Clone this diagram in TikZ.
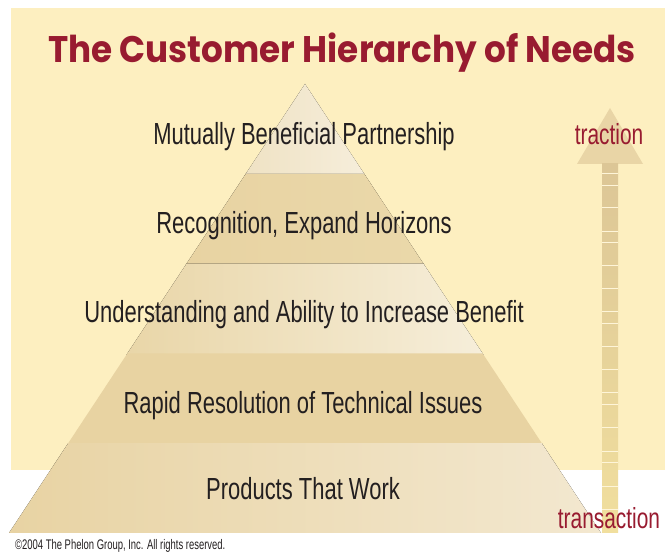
\documentclass[tikz,border=0pt]{standalone}
\usepackage{fontspec}
\usetikzlibrary{calc}
\newfontfamily\levelfont[FakeStretch=0.72]{Liberation Sans}
\newfontfamily\smallfont[FakeStretch=0.68]{Liberation Sans}
\newfontfamily\titlefont[FakeStretch=0.925]{Poppins}
\definecolor{cream}{HTML}{FDEFC0}
\definecolor{tanD}{HTML}{E8D3A2}
\definecolor{titlered}{HTML}{981B30}
\definecolor{ink}{HTML}{231F20}
\definecolor{c1L}{HTML}{EFE2C4}
\definecolor{c1R}{HTML}{F6EEDB}
\definecolor{c2R}{HTML}{EAD8AA}
\definecolor{c3L}{HTML}{E9D6A8}
\definecolor{c3R}{HTML}{F6EEDA}
\definecolor{c5L}{HTML}{E8D3A3}
\definecolor{c5R}{HTML}{F3E8D0}
\definecolor{arrowhead}{HTML}{E9D5A6}
\definecolor{shaftT}{HTML}{DCC696}
\definecolor{shaftB}{HTML}{F1DF9E}
\tikzset{
  leveltext/.style={anchor=base, text=ink, font=\levelfont\fontsize{30.5}{36}\selectfont, inner sep=0pt},
  redtext/.style={anchor=base, text=titlered, font=\levelfont\fontsize{29}{34}\selectfont, inner sep=0pt},
  divider/.style={draw=cream!60!white, line width=1pt},
}
\begin{document}
\begin{tikzpicture}[x=1pt,y=-1pt]
\useasboundingbox (0,0) rectangle (665,553);
\fill[white] (0,0) rectangle (665,553);
% cream background
\fill[cream] (11,8) rectangle (665,470);
% title
\node[anchor=base, text=titlered, font=\titlefont\bfseries\fontsize{37}{44}\selectfont, inner sep=0pt] (title) at (342,63) {The Customer Hierarchy of Needs};
% pyramid
\coordinate (apex) at (305,84);
\coordinate (bl) at (9,533);
\coordinate (br) at (601,533);
\foreach \i/\t in {1/0.2,2/0.4,3/0.6,4/0.8}{
  \coordinate (l\i) at ($(apex)!\t!(bl)$);
  \coordinate (r\i) at ($(apex)!\t!(br)$);
  \coordinate (lo\i) at ($(apex)!\t+0.004!(bl)$);
  \coordinate (ro\i) at ($(apex)!\t+0.004!(br)$);
}
\fill[left color=c1L, right color=c1R] (apex) -- (ro1) -- (lo1) -- cycle;
\fill[left color=tanD, right color=c2R] (l1) -- (r1) -- (ro2) -- (lo2) -- cycle;
\fill[left color=c3L, right color=c3R] (l2) -- (r2) -- (ro3) -- (lo3) -- cycle;
\fill[tanD] (l3) -- (r3) -- (ro4) -- (lo4) -- cycle;
\fill[left color=c5L, right color=c5R] (l4) -- (r4) -- (br) -- (bl) -- cycle;
% level labels
\node[leveltext] (lev5) at (304,145) {Mutually Beneficial Partnership};
\node[leveltext] (lev4) at (304,234) {Recognition, Expand Horizons};
\node[leveltext] (lev3) at (304,323) {Understanding and Ability to Increase Benefit};
\node[leveltext] (lev2) at (303,414) {Rapid Resolution of Technical Issues};
\node[leveltext] (lev1) at (303,500) {Products That Work};
% arrow
\fill[arrowhead] (610,108) -- (643,164) -- (577,164) -- cycle;
\fill[top color=shaftT, bottom color=shaftB] (602,164) rectangle (618,533);
\foreach \yy in {174,186,208,232,243,266,289,312,324,347,370,393,405,428,452,463,487,510}
  \draw[divider] (602,\yy) -- (618,\yy);
\node[redtext] (traction) at (609,145) {traction};
\node[redtext] (transaction) at (609,529) {transaction};
% copyright
\node[anchor=base west, text=ink, font=\smallfont\fontsize{13.9}{17}\selectfont, inner sep=0pt] (copy) at (15,550) {©2004 The Phelon Group, Inc. All rights reserved.};
\end{tikzpicture}
\end{document}
